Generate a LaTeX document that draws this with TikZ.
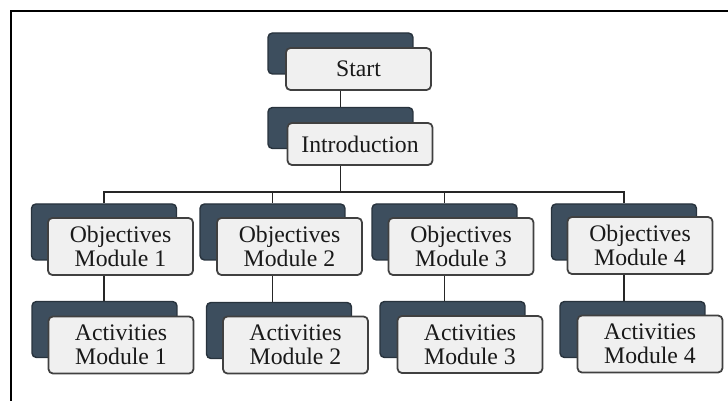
\documentclass[tikz,border=0pt]{standalone}
\usepackage{fontspec}
\setmainfont{Liberation Serif}
\usetikzlibrary{backgrounds}

\definecolor{slate}{HTML}{3D4E5E}
\definecolor{slateedge}{HTML}{28333D}
\definecolor{paper}{HTML}{F0F0F0}
\definecolor{ink}{HTML}{404040}

\tikzset{
  backcard/.style={draw=slateedge,fill=slate,line width=0.8pt,rounded corners=2.5pt,
    minimum width=2.9cm,inner sep=0pt},
  frontcard/.style={draw=ink,fill=paper,line width=1pt,rounded corners=2.5pt,
    minimum width=2.9cm,inner sep=0pt,align=center,text=black!90,
    font=\fontsize{13.5}{13.6}\selectfont},
  link/.style={draw=black!85,line width=1pt}
}

\begin{document}
\begin{tikzpicture}[x=0.02cm,y=-0.02cm]

\useasboundingbox (0,0) rectangle (728,401);

% Frame
\draw[line width=1.1pt] (11,401) -- (11,11) -- (728,11);

% Top levels
\node[backcard,minimum height=0.82cm] (startb) at (340.5,53.5) {};
\node[frontcard,minimum height=0.84cm] (start) at (358.5,69) {Start};
\node[backcard,minimum height=0.82cm] (introb) at (340.5,128) {};
\node[frontcard,minimum height=0.84cm] (intro) at (360,144) {Introduction};

% Objectives
\node[backcard,minimum height=1.12cm] (objb1) at (104,232) {};
\node[frontcard,minimum height=1.14cm] (obj1) at (120.5,246.5) {Objectives\\Module 1};
\node[backcard,minimum height=1.12cm] (objb2) at (272.5,232) {};
\node[frontcard,minimum height=1.14cm] (obj2) at (289.5,246.5) {Objectives\\Module 2};
\node[backcard,minimum height=1.12cm] (objb3) at (444.5,232) {};
\node[frontcard,minimum height=1.14cm] (obj3) at (461,246.5) {Objectives\\Module 3};
\node[backcard,minimum height=1.12cm] (objb4) at (624,232) {};
\node[frontcard,minimum height=1.14cm] (obj4) at (640,245.5) {Objectives\\Module 4};

% Activities
\node[backcard,minimum height=1.12cm] (actb1) at (104.5,329.5) {};
\node[frontcard,minimum height=1.14cm] (act1) at (121,345) {Activities\\Module 1};
\node[backcard,minimum height=1.12cm] (actb2) at (279,330.5) {};
\node[frontcard,minimum height=1.14cm] (act2) at (295.5,345) {Activities\\Module 2};
\node[backcard,minimum height=1.12cm] (actb3) at (452.5,329.5) {};
\node[frontcard,minimum height=1.14cm] (act3) at (470,344.5) {Activities\\Module 3};
\node[backcard,minimum height=1.12cm] (actb4) at (632.5,329.5) {};
\node[frontcard,minimum height=1.14cm] (act4) at (650,344) {Activities\\Module 4};

% Connectors
\coordinate (bus) at (0,192);
\begin{scope}[on background layer]
\draw[link] (startb) -- (introb);
\draw[link] (introb.south) -- (introb.south |- bus) -| (objb1.north);
\draw[link] (introb.south |- bus) -| (objb2.north);
\draw[link] (introb.south |- bus) -| (objb3.north);
\draw[link] (introb.south |- bus) -| (objb4.north);
\draw[link] (objb1.south) -- (objb1.south |- actb1.north);
\draw[link] (objb2.south) -- (objb2.south |- actb2.north);
\draw[link] (objb3.south) -- (objb3.south |- actb3.north);
\draw[link] (objb4.south) -- (objb4.south |- actb4.north);
\end{scope}

\end{tikzpicture}
\end{document}
